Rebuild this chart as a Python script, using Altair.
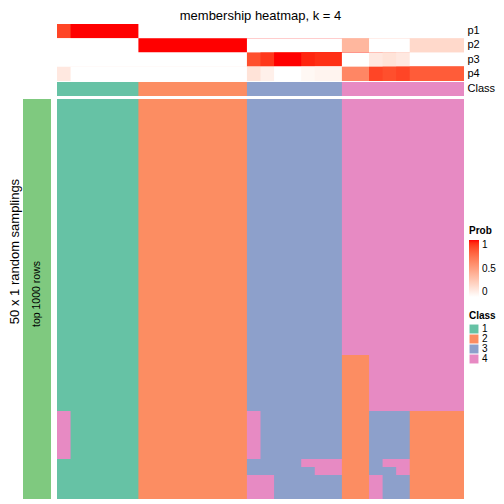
import altair as alt
import pandas as pd

FONT = "Liberation Sans"

# ---- data ----
n_cols = 30
col_class = [1]*6 + [2]*8 + [3]*7 + [4]*9
p_names = ["p1", "p2", "p3", "p4"]
p1 = [0.88, 1, 1, 1, 1, 1] + [0]*8 + [0]*7 + [0]*9
p2 = [0]*6 + [1]*8 + [0]*7 + [0.38, 0.38, 0, 0, 0, 0.2, 0.2, 0.2, 0.2]
p3 = [0]*6 + [0]*8 + [0.85, 0.92, 1, 1, 0.96, 0.94, 0.94] + [0, 0, 0.12, 0.15, 0.12, 0, 0, 0, 0]
p4 = [0.12, 0, 0, 0, 0, 0] + [0]*8 + [0.15, 0.08, 0, 0, 0.04, 0.06, 0.06] + [0.62, 0.62, 0.88, 0.85, 0.88, 0.8, 0.8, 0.8, 0.8]

base_row = "111111" "22222222" "3333333" "444444444"
row_a = "111111" "22222222" "3333333" "224444444"
row_b = "411111" "22222222" "4333333" "223332222"
row_c = "111111" "22222222" "3333444" "223442222"
row_d = "111111" "22222222" "3333344" "223342222"
row_e = "111111" "22222222" "4433333" "224332222"
sampling_rows = [base_row]*32 + [row_a]*7 + [row_b]*6 + [row_c] + [row_d] + [row_e]*3

class_names = ["1", "2", "3", "4"]
class_colors = ["#66C2A5", "#FC8D62", "#8DA0CB", "#E78AC3"]


def runs(seq):
    """Horizontal runs of equal values: (start, end, value)."""
    out = []
    start = 0
    for i in range(1, len(seq) + 1):
        if i == len(seq) or seq[i] != seq[start]:
            out.append((start, i, seq[start]))
            start = i
    return out


# ---- tables ----
# Each run is painted from its first column to the right edge, in left-to-right
# order, so later runs cover the tail: no white hairlines between neighbours.
prob_rec = []
for name, vals in zip(p_names, [p1, p2, p3, p4]):
    for s, e, v in runs(vals):
        prob_rec.append({"c0": s, "c1": e, "cend": n_cols, "p": name, "prob": v})
prob_df = pd.DataFrame(prob_rec)

ann_df = pd.DataFrame([{"c0": s, "c1": e, "cend": n_cols, "lab": "Class", "cls": str(v)}
                       for s, e, v in runs(col_class)])

main_rec = []
open_blocks = {}
for r, srow in enumerate(sampling_rows + [None]):
    cur = set(runs(srow)) if srow is not None else set()
    for key in list(open_blocks):
        if key not in cur:
            s, e, v = key
            main_rec.append({"c0": s, "c1": e, "cend": n_cols, "r0": open_blocks[key], "r1": r, "cls": v})
            del open_blocks[key]
    for key in cur:
        if key not in open_blocks:
            open_blocks[key] = r
main_df = pd.DataFrame(main_rec).sort_values(["c0", "r0"]).reset_index(drop=True)

side_df = pd.DataFrame([{"k": "a", "txt": "top 1000 rows"}])

x_scale = alt.Scale(domain=[0, n_cols], nice=False, zero=False)
cls_scale = alt.Scale(domain=class_names, range=class_colors)
prob_scale = alt.Scale(domain=[0, 1], range=["#FFFFFF", "#FF0000"], interpolate="lab")

prob_layer = alt.Chart(prob_df).mark_rect().encode(
    x=alt.X("c0:Q", scale=x_scale, axis=None),
    x2="cend:Q",
    y=alt.Y("p:N", scale=alt.Scale(domain=p_names, range=[0, 57], paddingInner=0, paddingOuter=0),
            axis=alt.Axis(orient="right", title=None, ticks=False, domain=False, labelPadding=3,
                          labelFontSize=11, labelFont=FONT, labelColor="black")),
    color=alt.Color("prob:Q", scale=prob_scale,
                    legend=alt.Legend(title="Prob", orient="none", legendX=412, legendY=202,
                                      direction="vertical", gradientLength=57, gradientThickness=10,
                                      gradientStrokeWidth=0, values=[0, 0.5, 1], format="~g",
                                      labelOverlap=False, titleFont=FONT, titleFontSize=10,
                                      titleFontWeight="bold", titleColor="black", titlePadding=4,
                                      labelFont=FONT, labelFontSize=10, labelColor="black",
                                      labelOffset=3, padding=0)),
)

ann_layer = alt.Chart(ann_df).mark_rect().encode(
    x=alt.X("c0:Q", scale=x_scale, axis=None),
    x2="cend:Q",
    y=alt.Y("lab:N", scale=alt.Scale(domain=["Class"], range=[58, 72], paddingInner=0, paddingOuter=0),
            axis=alt.Axis(orient="right", title=None, ticks=False, domain=False, labelPadding=3,
                          labelFontSize=11, labelFont=FONT, labelColor="black")),
    color=alt.Color("cls:N", scale=cls_scale,
                    legend=alt.Legend(title="Class", orient="none", legendX=412, legendY=287,
                                      symbolType="square", symbolSize=80, symbolStrokeWidth=0,
                                      symbolOpacity=1, rowPadding=0, titleFont=FONT, titleFontSize=10,
                                      titleFontWeight="bold", titleColor="black", titlePadding=3,
                                      labelFont=FONT, labelFontSize=10, labelColor="black",
                                      labelOffset=3, padding=0)),
)

main_layer = alt.Chart(main_df).mark_rect().encode(
    x=alt.X("c0:Q", scale=x_scale, axis=None),
    x2="cend:Q",
    y=alt.Y("r0:Q", scale=alt.Scale(domain=[0, len(sampling_rows)], range=[75, 475], nice=False, zero=False),
            axis=None),
    y2="r1:Q",
    color=alt.Color("cls:N", scale=cls_scale, legend=None),
)

side_x = alt.X("k:N", scale=alt.Scale(domain=["a"], range=[-34, -6], paddingInner=0, paddingOuter=0), axis=None)
side_bar = alt.Chart(side_df).mark_rect(color="#7FC97F").encode(
    x=side_x,
    y=alt.Y("k:N", scale=alt.Scale(domain=["a"], range=[75, 475], paddingInner=0, paddingOuter=0),
            axis=alt.Axis(orient="left", title="50 x 1 random samplings", labels=False, ticks=False,
                          domain=False, titleFont=FONT, titleFontSize=13, titleFontWeight="normal",
                          titleColor="black", titleX=-42.5, titleY=227, titleAngle=270,
                          titleBaseline="middle", titleAlign="center")),
)
side_text = alt.Chart(side_df).mark_text(angle=270, font=FONT, fontSize=10.5, color="black",
                                         baseline="middle", align="center", dx=5).encode(
    x=side_x,
    y=alt.Y("k:N", scale=alt.Scale(domain=["a"], range=[75, 475], paddingInner=0, paddingOuter=0), axis=None),
    text="txt:N",
)

chart = alt.layer(prob_layer, ann_layer, main_layer, side_bar, side_text).resolve_scale(
    x="independent", y="independent", color="independent"
).properties(
    width=407, height=475,
    padding={"left": 49, "top": 16, "right": 32, "bottom": 0},
    autosize="none",
    title=alt.Title("membership heatmap, k = 4", font=FONT, fontSize=13, fontWeight="normal",
                    color="black", anchor="middle", frame="group", offset=1),
).configure_view(stroke=None)

chart.save("out.html", embed_options={"renderer": "svg", "actions": False})
